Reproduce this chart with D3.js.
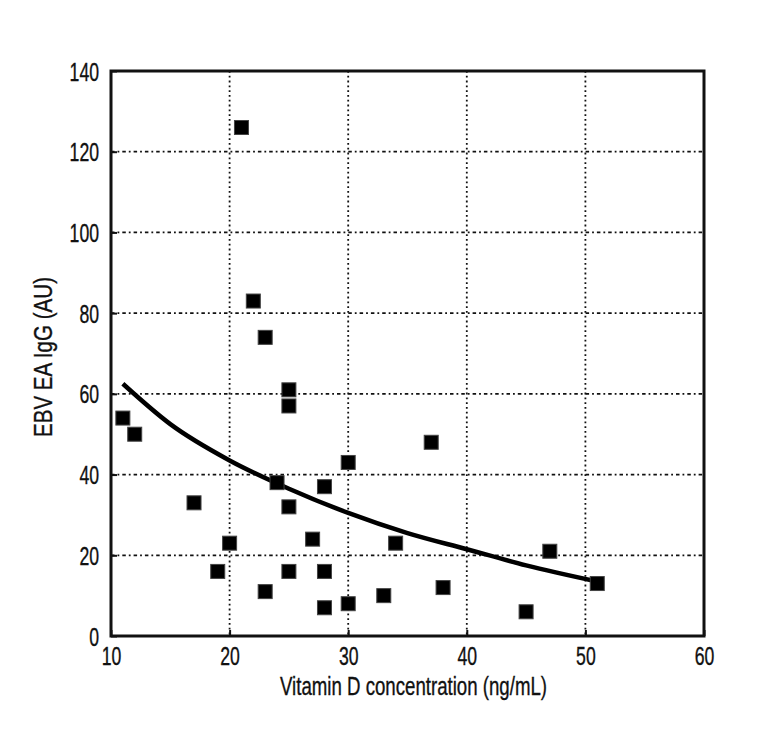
<!DOCTYPE html>
<html><head><meta charset="utf-8">
<script src="https://cdn.jsdelivr.net/npm/d3@7"></script>
<style>
body{margin:0;background:#fff;}
text{font-family:"Liberation Sans",Arial,sans-serif;fill:#111;stroke:#111;stroke-width:0.35px;}
</style></head>
<body><svg id="c" width="768" height="744"></svg>
<script>
const vitaminD = [21,22,23,25,25,11,12,17,20,19,24,25,28,27,23,25,28,28,30,30,33,34,37,38,45,47,51];
const ebvIgG   = [126,83,74,61,57,54,50,33,23,16,38,32,37,24,11,16,16,7,43,8,10,23,48,12,6,21,13];
const trendX = [11,15,20,25,30,35,40,45,51];
const trendY = [62.5,52.5,43.5,36.5,30.5,25.5,21.5,17.5,13.5];
const xTicks = [10,20,30,40,50,60];
const yTicks = [0,20,40,60,80,100,120,140];

const svg = d3.select("#c");
const L=111,R=704,T=71,B=636;
const x = d3.scaleLinear().domain([10,60]).range([L,R]);
const y = d3.scaleLinear().domain([0,140]).range([B,T]);

// grid
svg.append("g").selectAll("line").data(xTicks.slice(1,-1)).join("line")
  .attr("x1",d=>x(d)).attr("x2",d=>x(d)).attr("y1",T).attr("y2",B)
  .attr("stroke","#111").attr("stroke-width",1.8).attr("stroke-dasharray","1.8,3");
svg.append("g").selectAll("line").data(yTicks.slice(1,-1)).join("line")
  .attr("y1",d=>y(d)).attr("y2",d=>y(d)).attr("x1",L).attr("x2",R)
  .attr("stroke","#111").attr("stroke-width",1.8).attr("stroke-dasharray","3.5,3,1.8,3");

// axes
const xa = svg.append("g").attr("transform",`translate(0,${B})`)
  .call(d3.axisBottom(x).tickValues(xTicks).tickSize(-6).tickPadding(11));
const ya = svg.append("g").attr("transform",`translate(${L},0)`)
  .call(d3.axisLeft(y).tickValues(yTicks).tickSize(-6).tickPadding(12));
[xa,ya].forEach(a=>{
  a.select(".domain").remove();
  a.selectAll(".tick line").attr("stroke","#111").attr("stroke-width",2);
  a.selectAll(".tick text").attr("font-size",25).attr("fill","#111")
    .style("font-family",'"Liberation Sans",Arial,sans-serif')
    .attr("lengthAdjust","spacingAndGlyphs")
    .attr("textLength",function(){return this.textContent.length*9.8;});
});
ya.selectAll(".tick text").attr("dy","0.36em");

// frame
svg.append("rect").attr("x",L).attr("y",T).attr("width",R-L).attr("height",B-T)
  .attr("fill","none").attr("stroke","#111").attr("stroke-width",3);

// trend line
svg.append("path").datum(trendX.map((d,i)=>[d,trendY[i]]))
  .attr("d",d3.line().x(d=>x(d[0])).y(d=>y(d[1])).curve(d3.curveMonotoneX))
  .attr("fill","none").attr("stroke","#000").attr("stroke-width",4.5);

// points
const s=14;
svg.append("g").selectAll("rect").data(vitaminD.map((d,i)=>[d,ebvIgG[i]])).join("rect")
  .attr("x",d=>x(d[0])-s/2).attr("y",d=>y(d[1])-s/2).attr("width",s).attr("height",s)
  .attr("fill","#000").attr("stroke","#444").attr("stroke-width",1);

// titles
svg.append("text").attr("x",413.5).attr("y",695).attr("text-anchor","middle")
  .attr("font-size",25).attr("lengthAdjust","spacingAndGlyphs").attr("textLength",267)
  .text("Vitamin D concentration (ng/mL)");
svg.append("text").attr("transform","translate(52,357) rotate(-90)").attr("text-anchor","middle")
  .attr("font-size",25).attr("lengthAdjust","spacingAndGlyphs").attr("textLength",160)
  .text("EBV EA IgG (AU)");
</script></body></html>
